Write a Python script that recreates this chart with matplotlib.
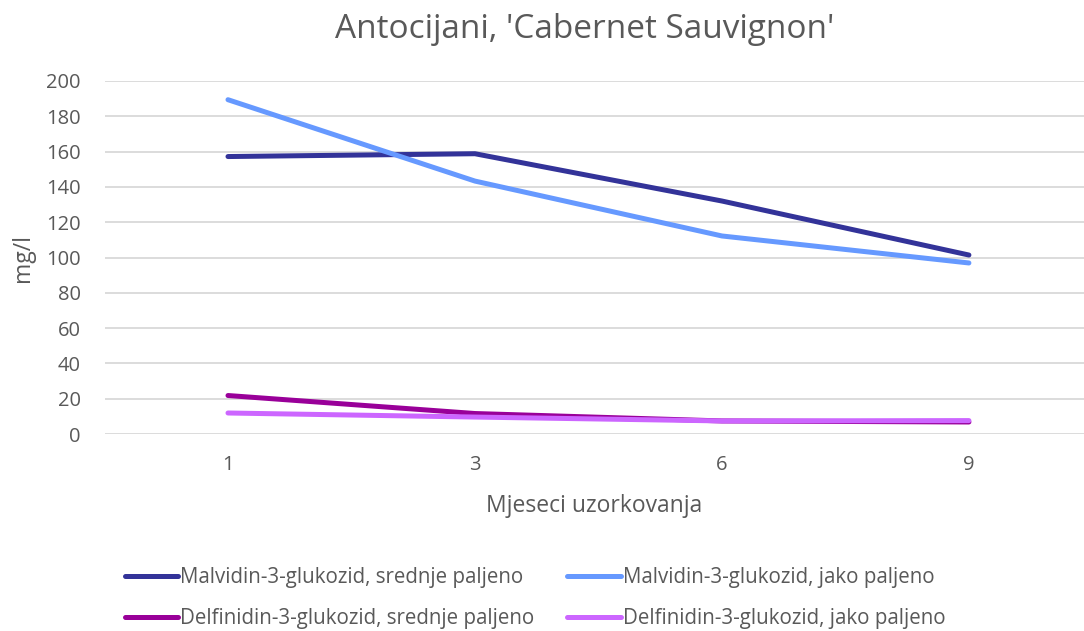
import matplotlib
matplotlib.use("Agg")
import matplotlib.pyplot as plt

months = ["1", "3", "6", "9"]
malv_srednje = [157.2, 158.8, 132.0, 101.4]
malv_jako = [189.4, 143.3, 112.2, 96.9]
delf_srednje = [21.8, 11.6, 7.4, 6.8]
delf_jako = [11.9, 9.6, 7.4, 7.6]
labels = ["Malvidin-3-glukozid, srednje paljeno", "Malvidin-3-glukozid, jako paljeno",
          "Delfinidin-3-glukozid, srednje paljeno", "Delfinidin-3-glukozid, jako paljeno"]
colors = ["#333399", "#6699FF", "#990099", "#CC66FF"]
yticks = [0, 20, 40, 60, 80, 100, 120, 140, 160, 180, 200]

plt.rcParams['font.family'] = ['Open Sans', 'DejaVu Sans']
fig = plt.figure(figsize=(10.84, 6.31), dpi=100)
W, H = 1084, 631
ax = fig.add_axes([104.5 / W, 1 - 434 / H, (W - 104.5) / W, (434 - 81) / H])

x = list(range(len(months)))
series = [malv_srednje, malv_jako, delf_srednje, delf_jako]
handles = []
for s, c, l in zip(series, colors, labels):
    h, = ax.plot(x, s, color=c, lw=3.6, solid_capstyle='round', label=l)
    handles.append(h)

ax.set_xlim(-0.5, 3.466)
ax.set_ylim(0, 200)
ax.set_yticks(yticks)
ax.set_xticks(x)
ax.set_xticklabels(months)
ax.grid(axis='y', color='#D9D9D9', lw=1.3)
ax.set_axisbelow(True)
for sp in ax.spines.values():
    sp.set_visible(False)
ax.tick_params(length=0, labelsize=14.5, labelcolor='#595959')
ax.tick_params(axis='y', pad=17)
ax.tick_params(axis='x', pad=15)
ax.set_xlabel("Mjeseci uzorkovanja", fontsize=16.5, color='#595959', labelpad=14)
ax.set_ylabel("mg/l", fontsize=16.5, color='#595959', labelpad=8)
fig.text(0.539, 1 - 30 / H, "Antocijani, 'Cabernet Sauvignon'", ha='center', va='center',
         fontsize=24, color='#595959')

# matplotlib fills legend column-major; reorder so rows read like the reference
col_order = [0, 2, 1, 3]
leg = fig.legend(handles=[handles[i] for i in col_order],
                 labels=[labels[i] for i in col_order], loc='center', ncol=2,
                 bbox_to_anchor=(0.4935, 1 - 598 / H), frameon=False, fontsize=14.8,
                 handlelength=2.6, handletextpad=0.1, columnspacing=1.6,
                 labelspacing=1.0)
for t in leg.get_texts():
    t.set_color('#595959')

fig.savefig("out.png", dpi=100)
